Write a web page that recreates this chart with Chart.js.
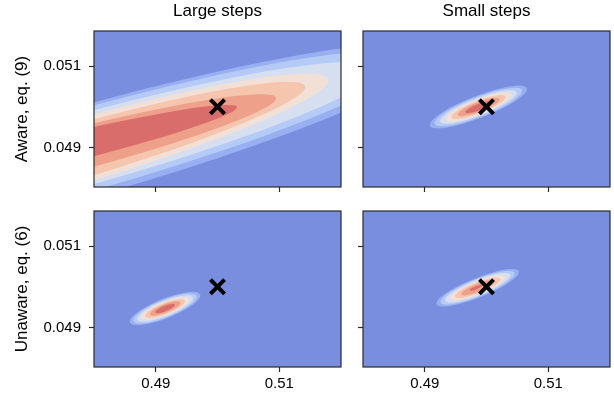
<!DOCTYPE html>
<html><head><meta charset="utf-8">
<script src="https://cdn.jsdelivr.net/npm/chart.js@4.4.0/dist/chart.umd.min.js"></script>
<style>
html,body{margin:0;padding:0;background:#fff;width:614px;height:402px;overflow:hidden}
.c{position:absolute}
</style></head><body>
<div class="c" style="left:0;top:0;width:345px;height:199px"><canvas id="c0"></canvas></div>
<div class="c" style="left:345px;top:0;width:269px;height:199px"><canvas id="c1"></canvas></div>
<div class="c" style="left:0;top:199px;width:345px;height:203px"><canvas id="c2"></canvas></div>
<div class="c" style="left:345px;top:199px;width:269px;height:203px"><canvas id="c3"></canvas></div>
<script>
// ---- text / ticks ----
const columnTitles = ['Large steps', 'Small steps'];
const rowLabels = ['Aware, eq. (9)', 'Unaware, eq. (6)'];
const xTickValues = [0.49, 0.51];
const xTickLabels = ['0.49', '0.51'];
const yTickValues = [0.049, 0.051];
const yTickLabels = ['0.049', '0.051'];
const xRange = [0.48, 0.52];
const yRange = [0.04803, 0.05186];
// true parameter (cross marker)
const trueX = [0.5];
const trueY = [0.05];

// ---- contour levels (outer -> inner), ellipse centre, x half-extent, axis slope, vertical half-thickness ----
const awareLargeCx = [0.47740, 0.47773, 0.47724, 0.47254, 0.47205, 0.47217, 0.47071];
const awareLargeCy = [0.048848, 0.048900, 0.048892, 0.048684, 0.048664, 0.048757, 0.048809];
const awareLargeAx = [0.05839, 0.05353, 0.04866, 0.04542, 0.04217, 0.03731, 0.03244];
const awareLargeSlope = [0.04216, 0.04185, 0.04155, 0.0432, 0.04318, 0.03892, 0.03633];
const awareLargeBy = [0.001152, 0.001042, 0.000907, 0.000821, 0.000699, 0.000547, 0.000375];

const awareSmallCx = [0.49868, 0.49868, 0.49868, 0.49870, 0.49872, 0.49875, 0.49880];
const awareSmallCy = [0.049995, 0.049995, 0.049995, 0.049995, 0.049995, 0.049995, 0.049995];
const awareSmallAx = [0.00787, 0.00708, 0.00622, 0.00535, 0.00441, 0.00340, 0.00228];
const awareSmallSlope = [0.0555, 0.0555, 0.0555, 0.0555, 0.0555, 0.0555, 0.0555];
const awareSmallBy = [0.000290, 0.000261, 0.000229, 0.000197, 0.000163, 0.000125, 0.000084];

const unawareLargeCx = [0.49151, 0.49151, 0.49151, 0.49151, 0.49151, 0.49151, 0.49151];
const unawareLargeCy = [0.049466, 0.049466, 0.049466, 0.049466, 0.049466, 0.049466, 0.049466];
const unawareLargeAx = [0.00573, 0.00516, 0.00453, 0.00390, 0.00321, 0.00246, 0.00160];
const unawareLargeSlope = [0.0560, 0.0560, 0.0560, 0.0560, 0.0560, 0.0560, 0.0560];
const unawareLargeBy = [0.000255, 0.000230, 0.000202, 0.000173, 0.000143, 0.000110, 0.000071];

const unawareSmallCx = [0.49856, 0.49856, 0.49856, 0.49856, 0.49858, 0.49860, 0.49830];
const unawareSmallCy = [0.049975, 0.049975, 0.049975, 0.049975, 0.049975, 0.049975, 0.049975];
const unawareSmallAx = [0.00668, 0.00601, 0.00528, 0.00450, 0.00368, 0.00270, 0.00100];
const unawareSmallSlope = [0.0575, 0.0575, 0.0575, 0.0575, 0.0575, 0.0575, 0.0575];
const unawareSmallBy = [0.000255, 0.000230, 0.000202, 0.000171, 0.000140, 0.000103, 0.000040];

// ---- styles ----
const FONT = "'Liberation Sans', Arial, sans-serif";
const bgColor = '#7a8ee0';
const levelColors = ['#98b0f1', '#b6caf6', '#d6dfef', '#f2e0d7', '#f5c5ae', '#eea08a', '#d96d6b'];

const contourPlugin = {
  id: 'contours',
  beforeDatasetsDraw(chart, args, o) {
    const {ctx, chartArea: a, scales: {x: xs, y: ys}} = chart;
    ctx.save();
    ctx.beginPath();
    ctx.rect(a.left, a.top, a.right - a.left, a.bottom - a.top);
    ctx.clip();
    ctx.fillStyle = bgColor;
    ctx.fillRect(a.left, a.top, a.right - a.left, a.bottom - a.top);
    for (let i = 0; i < o.cx.length; i++) {
      const px0 = xs.getPixelForValue(o.cx[i]);
      const py0 = ys.getPixelForValue(o.cy[i]);
      const axp = xs.getPixelForValue(o.cx[i] + o.ax[i]) - px0;
      const ayp = ys.getPixelForValue(o.cy[i] + o.slope[i] * o.ax[i]) - py0;
      const byp = ys.getPixelForValue(o.cy[i] + o.by[i]) - py0;
      ctx.save();
      ctx.beginPath();
      ctx.transform(axp, ayp, 0, byp, px0, py0);
      ctx.arc(0, 0, 1, 0, Math.PI * 2);
      ctx.restore();
      ctx.fillStyle = levelColors[i];
      ctx.fill();
    }
    ctx.restore();
  }
};
const framePlugin = {
  id: 'frame',
  afterDraw(chart) {
    const {ctx, chartArea: a} = chart;
    ctx.save();
    ctx.strokeStyle = '#2b2b2b';
    ctx.lineWidth = 1.2;
    ctx.strokeRect(a.left, a.top, a.right - a.left, a.bottom - a.top);
    ctx.restore();
  }
};
function noPad(s) { s.paddingLeft = 0; s.paddingRight = 0; s.paddingTop = 0; s.paddingBottom = 0; }

function makeChart(id, p) {
  return new Chart(document.getElementById(id), {
    type: 'scatter',
    data: {datasets: [{
      data: trueX.map((x, i) => ({x: x, y: trueY[i]})),
      pointStyle: 'crossRot', pointRadius: 10, pointHoverRadius: 10,
      pointBorderWidth: 4, borderColor: '#000', backgroundColor: '#000', clip: false
    }]},
    options: {
      responsive: true, maintainAspectRatio: false, animation: false, devicePixelRatio: 1,
      layout: {padding: p.padding, autoPadding: false},
      events: [],
      plugins: {
        legend: {display: false}, tooltip: {enabled: false},
        title: {display: !!p.title, text: p.title || '', fullSize: false, color: '#000',
          font: {family: FONT, size: 17, weight: 'normal', lineHeight: 1.2}, padding: {top: 1, bottom: 9.6}},
        contours: p.contours
      },
      scales: {
        x: {
          type: 'linear', min: xRange[0], max: xRange[1],
          afterBuildTicks: s => { s.ticks = xTickValues.map(v => ({value: v})); },
          ticks: {callback: (v, i) => p.showX ? xTickLabels[i] : '', color: '#000', padding: 3,
            font: {family: FONT, size: 15}, maxRotation: 0, autoSkip: false},
          grid: {drawOnChartArea: false, drawTicks: true, tickLength: 5, tickWidth: 1.2, tickColor: '#2b2b2b'},
          border: {display: false},
          afterFit: s => { s.height = p.xH; noPad(s); }
        },
        y: {
          type: 'linear', min: yRange[0], max: yRange[1],
          afterBuildTicks: s => { s.ticks = yTickValues.map(v => ({value: v})); },
          ticks: {callback: (v, i) => p.showY ? yTickLabels[i] : '', color: '#000', padding: 8,
            font: {family: FONT, size: 15}, autoSkip: false},
          grid: {drawOnChartArea: false, drawTicks: true, tickLength: 5, tickWidth: 1.2, tickColor: '#2b2b2b'},
          border: {display: false},
          title: {display: !!p.ylabel, text: p.ylabel || '', color: '#000',
            font: {family: FONT, size: 17, lineHeight: 1.2}, padding: {top: 0, bottom: 0}},
          afterFit: s => { s.width = p.yW; noPad(s); }
        }
      }
    },
    plugins: [contourPlugin, framePlugin]
  });
}

makeChart('c0', {title: columnTitles[0], ylabel: rowLabels[0], showX: false, showY: true,
  padding: {left: 12, right: 4, top: 0, bottom: 0}, xH: 12, yW: 82,
  contours: {cx: awareLargeCx, cy: awareLargeCy, ax: awareLargeAx, slope: awareLargeSlope, by: awareLargeBy}});
makeChart('c1', {title: columnTitles[1], showX: false, showY: false,
  padding: {left: 0, right: 4, top: 0, bottom: 0}, xH: 12, yW: 18,
  contours: {cx: awareSmallCx, cy: awareSmallCy, ax: awareSmallAx, slope: awareSmallSlope, by: awareSmallBy}});
makeChart('c2', {ylabel: rowLabels[1], showX: true, showY: true,
  padding: {left: 12, right: 4, top: 12, bottom: 0}, xH: 35, yW: 82,
  contours: {cx: unawareLargeCx, cy: unawareLargeCy, ax: unawareLargeAx, slope: unawareLargeSlope, by: unawareLargeBy}});
makeChart('c3', {showX: true, showY: false,
  padding: {left: 0, right: 4, top: 12, bottom: 0}, xH: 35, yW: 18,
  contours: {cx: unawareSmallCx, cy: unawareSmallCy, ax: unawareSmallAx, slope: unawareSmallSlope, by: unawareSmallBy}});
</script>
</body></html>
